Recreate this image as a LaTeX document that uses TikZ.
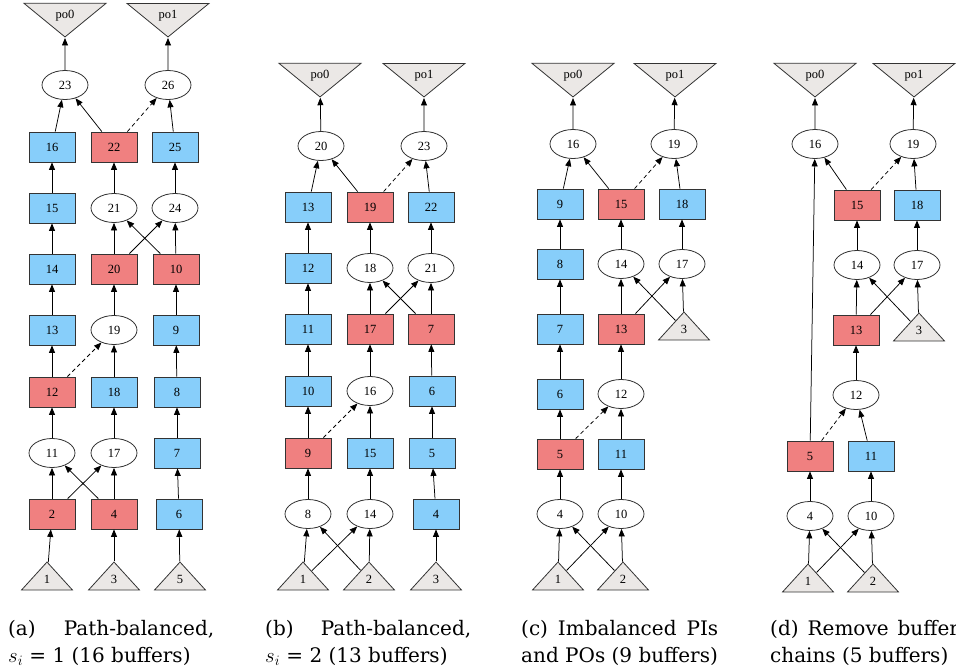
\documentclass[tikz,border=0pt]{standalone}
\usepackage{fontspec}
\setmainfont{DejaVu Serif}
\newfontfamily\gvfont{Liberation Serif}
\usetikzlibrary{arrows.meta,shapes.geometric}
\definecolor{bufblue}{HTML}{87CEFA}
\definecolor{bufred}{HTML}{F08080}
\definecolor{iofill}{HTML}{EBE8E6}
\definecolor{gvline}{HTML}{333333}
\tikzset{
  gv/.style={draw=gvline, line width=0.8pt, font=\gvfont\fontsize{12.5}{13}\selectfont, inner sep=0pt},
  buf/.style={gv, rectangle, minimum width=46pt, minimum height=30pt, fill=bufblue},
  rbuf/.style={buf, fill=bufred},
  gate/.style={gv, ellipse, minimum width=46pt, minimum height=29pt, fill=white},
  pin/.style={gv, isosceles triangle, isosceles triangle stretches, shape border rotate=90,
    minimum width=51pt, minimum height=28pt, fill=iofill, anchor=apex},
  pout/.style={gv, isosceles triangle, isosceles triangle stretches, shape border rotate=270,
    minimum width=82pt, minimum height=28pt, fill=iofill, anchor=apex},
  wire/.style={draw=black, line width=0.75pt, -{Triangle[length=7.5pt,width=6pt]}},
  dwire/.style={wire, dash pattern=on 4pt off 3pt},
  capline/.style={anchor=base west, inner sep=0pt, font=\fontsize{20}{24}\selectfont},
}
\begin{document}
\begin{tikzpicture}[x=1pt,y=-1pt]
\useasboundingbox (0,0) rectangle (956,671);

% ---------------- (a) path-balanced, s_i = 1 ----------------
\node[pout] (a_po0) at (65,38) {po0};
\node[pout] (a_po1) at (168,38) {po1};
\node[gate] (a23) at (65,85) {23};
\node[gate] (a26) at (168,85) {26};
\node[buf]  (a16) at (52,147) {16};
\node[rbuf] (a22) at (114,147) {22};
\node[buf]  (a25) at (175,147) {25};
\node[buf]  (a15) at (52,208) {15};
\node[gate] (a21) at (114,208) {21};
\node[gate] (a24) at (175,208) {24};
\node[buf]  (a14) at (52,269) {14};
\node[rbuf] (a20) at (114,269) {20};
\node[rbuf] (a10) at (176,269) {10};
\node[buf]  (a13) at (52,330) {13};
\node[gate] (a19) at (114,330) {19};
\node[buf]  (a9)  at (176,330) {9};
\node[rbuf] (a12) at (52,392) {12};
\node[buf]  (a18) at (114,392) {18};
\node[buf]  (a8)  at (177,392) {8};
\node[gate] (a11) at (52,453) {11};
\node[gate] (a17) at (114,453) {17};
\node[buf]  (a7)  at (177,453) {7};
\node[rbuf] (a2)  at (52,514) {2};
\node[rbuf] (a4)  at (114,514) {4};
\node[buf]  (a6)  at (179,514) {6};
\node[pin]  (a1)  at (47,561) {1};
\node[pin]  (a3)  at (114,561) {3};
\node[pin]  (a5)  at (180,561) {5};
\foreach \s/\t in {a1/a2,a3/a4,a5/a6,a6/a7,a7/a8,a8/a9,a9/a10,a10/a24,a10/a21,
  a2/a11,a2/a17,a4/a11,a4/a17,a11/a12,a17/a18,a18/a19,a12/a13,a13/a14,a19/a20,
  a14/a15,a15/a16,a20/a21,a20/a24,a21/a22,a24/a25,a16/a23,a22/a23,a25/a26,
  a23/a_po0,a26/a_po1}
  \draw[wire] (\s) -- (\t);
\draw[dwire] (a12) -- (a19);
\draw[dwire] (a22) -- (a26);

% ---------------- (b) path-balanced, s_i = 2 ----------------
\node[pout] (b_po0) at (320,98) {po0};
\node[pout] (b_po1) at (424,98) {po1};
\node[gate] (b20) at (321,146) {20};
\node[gate] (b23) at (424,146) {23};
\node[buf]  (b13) at (308,207) {13};
\node[rbuf] (b19) at (370,207) {19};
\node[buf]  (b22) at (431,207) {22};
\node[buf]  (b12) at (308,268) {12};
\node[gate] (b18) at (370,268) {18};
\node[gate] (b21) at (431,268) {21};
\node[buf]  (b11) at (308,329) {11};
\node[rbuf] (b17) at (370,329) {17};
\node[rbuf] (b7)  at (431,329) {7};
\node[buf]  (b10) at (308,391) {10};
\node[gate] (b16) at (370,391) {16};
\node[buf]  (b6)  at (432,391) {6};
\node[rbuf] (b9)  at (308,453) {9};
\node[buf]  (b15) at (370,453) {15};
\node[buf]  (b5)  at (432,453) {5};
\node[gate] (b8)  at (308,514) {8};
\node[gate] (b14) at (370,514) {14};
\node[buf]  (b4)  at (436,514) {4};
\node[pin]  (b1)  at (303,561) {1};
\node[pin]  (b2)  at (369,561) {2};
\node[pin]  (b3)  at (436,561) {3};
\foreach \s/\t in {b1/b8,b1/b14,b2/b8,b2/b14,b3/b4,b4/b5,b5/b6,b6/b7,b8/b9,b14/b15,
  b9/b10,b15/b16,b10/b11,b16/b17,b11/b12,b17/b18,b17/b21,b7/b18,b7/b21,b12/b13,
  b18/b19,b21/b22,b13/b20,b19/b20,b22/b23,b20/b_po0,b23/b_po1}
  \draw[wire] (\s) -- (\t);
\draw[dwire] (b9) -- (b16);
\draw[dwire] (b19) -- (b23);

% ---------------- (c) imbalanced PIs and POs ----------------
\node[pout] (c_po0) at (573,98) {po0};
\node[pout] (c_po1) at (675,98) {po1};
\node[gate] (c16) at (573,144) {16};
\node[gate] (c19) at (674,144) {19};
\node[buf]  (c9)  at (560,204) {9};
\node[rbuf] (c15) at (621,204) {15};
\node[buf]  (c18) at (682,204) {18};
\node[buf]  (c8)  at (560,264) {8};
\node[gate] (c14) at (621,264) {14};
\node[gate] (c17) at (682,264) {17};
\node[buf]  (c7)  at (560,329) {7};
\node[rbuf] (c13) at (621,329) {13};
\node[pin]  (c3)  at (684,311) {3};
\node[buf]  (c6)  at (560,394) {6};
\node[gate] (c12) at (621,394) {12};
\node[rbuf] (c5)  at (560,454) {5};
\node[buf]  (c11) at (621,454) {11};
\node[gate] (c4)  at (560,514) {4};
\node[gate] (c10) at (621,514) {10};
\node[pin]  (c1)  at (558,561) {1};
\node[pin]  (c2)  at (623,561) {2};
\foreach \s/\t in {c1/c4,c1/c10,c2/c4,c2/c10,c4/c5,c10/c11,c5/c6,c11/c12,c6/c7,
  c12/c13,c7/c8,c13/c14,c13/c17,c3/c14,c3/c17,c8/c9,c14/c15,c17/c18,c9/c16,
  c15/c16,c18/c19,c16/c_po0,c19/c_po1}
  \draw[wire] (\s) -- (\t);
\draw[dwire] (c5) -- (c12);
\draw[dwire] (c15) -- (c19);

% ---------------- (d) buffer chains removed ----------------
\node[pout] (d_po0) at (815,98) {po0};
\node[pout] (d_po1) at (914,98) {po1};
\node[gate] (d16) at (815,144) {16};
\node[gate] (d19) at (913,144) {19};
\node[rbuf] (d15) at (857,205) {15};
\node[buf]  (d18) at (917,205) {18};
\node[gate] (d14) at (857,265) {14};
\node[gate] (d17) at (917,265) {17};
\node[rbuf] (d13) at (856,330) {13};
\node[pin]  (d3)  at (919,312) {3};
\node[gate] (d12) at (856,395) {12};
\node[rbuf] (d5)  at (810,456) {5};
\node[buf]  (d11) at (871,456) {11};
\node[gate] (d4)  at (810,516) {4};
\node[gate] (d10) at (871,516) {10};
\node[pin]  (d1)  at (808,563) {1};
\node[pin]  (d2)  at (873,563) {2};
\foreach \s/\t in {d1/d4,d1/d10,d2/d4,d2/d10,d4/d5,d10/d11,d5/d16,d11/d12,d12/d13,
  d13/d14,d13/d17,d3/d14,d3/d17,d14/d15,d17/d18,d15/d16,d18/d19,d16/d_po0,d19/d_po1}
  \draw[wire] (\s) -- (\t);
\draw[dwire] (d5) -- (d12);
\draw[dwire] (d15) -- (d19);

% ---------------- sub-captions ----------------
\node[capline] (capa1) at (8,635)   {\hbox to 206pt{(a)\hfill Path-balanced,}};
\node[capline] (capa2) at (8,662)   {$s_i$ = 1 (16 buffers)};
\node[capline] (capb1) at (265,635) {\hbox to 206pt{(b)\hfill Path-balanced,}};
\node[capline] (capb2) at (265,662) {$s_i$ = 2 (13 buffers)};
\node[capline] (capc1) at (521,635) {\hbox to 197pt{(c)\hfill Imbalanced\hfill PIs}};
\node[capline] (capc2) at (521,662) {and POs (9 buffers)};
\node[capline] (capd1) at (770,635) {(d)\hspace{9pt}Remove\hspace{9pt}buffer};
\node[capline] (capd2) at (770,662) {chains (5 buffers)};
\end{tikzpicture}
\end{document}
